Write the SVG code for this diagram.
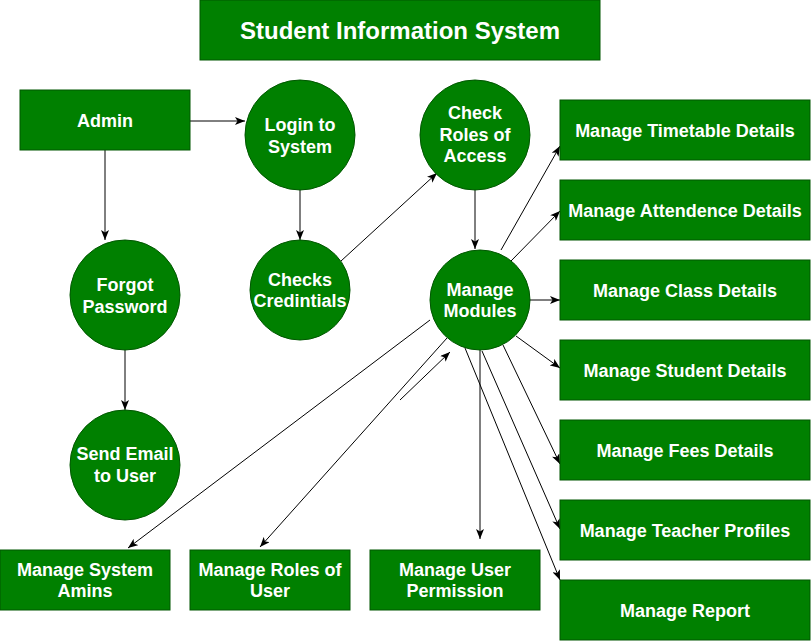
<svg xmlns="http://www.w3.org/2000/svg" width="811" height="641" viewBox="0 0 811 641">
  <style>
    .box { fill: #008000; stroke: #005700; stroke-width: 1; }
    .lbl { fill: #ffffff; font-family: "Liberation Sans", Arial, sans-serif; font-weight: bold; font-size: 18px; text-anchor: middle; }
    .title { font-size: 24px; }
    .edge { fill: none; stroke: #000000; stroke-width: 1; }
  </style>
  <defs>
    <marker id="arrow" viewBox="0 0 10 8" markerWidth="10" markerHeight="8" refX="10" refY="4" orient="auto" markerUnits="userSpaceOnUse">
      <path d="M0,0 L10,4 L0,8 L2.5,4 Z" fill="#000000"/>
    </marker>
  </defs>
  <rect width="811" height="641" fill="#ffffff"/>

  <g id="title">
    <rect class="box" x="200" y="0" width="400" height="60"/>
    <text class="lbl title" x="400" y="39">Student Information System</text>
  </g>

  <g id="connectors">
    <line class="edge" x1="190" y1="121" x2="245" y2="121" marker-end="url(#arrow)"/>
    <line class="edge" x1="105" y1="150" x2="105" y2="240" marker-end="url(#arrow)"/>
    <line class="edge" x1="300" y1="190" x2="300" y2="240" marker-end="url(#arrow)"/>
    <line class="edge" x1="125" y1="340" x2="125" y2="410" marker-end="url(#arrow)"/>
    <line class="edge" x1="341" y1="261" x2="437" y2="173" marker-end="url(#arrow)"/>
    <line class="edge" x1="475" y1="190" x2="475" y2="249" marker-end="url(#arrow)"/>
    <line class="edge" x1="501" y1="250" x2="560" y2="146" marker-end="url(#arrow)"/>
    <line class="edge" x1="511" y1="261" x2="560" y2="211" marker-end="url(#arrow)"/>
    <line class="edge" x1="530" y1="300" x2="560" y2="300" marker-end="url(#arrow)"/>
    <line class="edge" x1="516" y1="336" x2="560" y2="368" marker-end="url(#arrow)"/>
    <line class="edge" x1="503" y1="345" x2="560" y2="464" marker-end="url(#arrow)"/>
    <line class="edge" x1="482" y1="351" x2="560" y2="529" marker-end="url(#arrow)"/>
    <line class="edge" x1="465" y1="348" x2="560" y2="580" marker-end="url(#arrow)"/>
    <line class="edge" x1="480" y1="350" x2="480" y2="539" marker-end="url(#arrow)"/>
    <line class="edge" x1="430" y1="320" x2="128" y2="548" marker-end="url(#arrow)"/>
    <line class="edge" x1="447" y1="338" x2="260" y2="547" marker-end="url(#arrow)"/>
    <line class="edge" x1="400" y1="400" x2="450" y2="352" marker-end="url(#arrow)"/>
  </g>

  <g id="admin">
    <rect class="box" x="20" y="90" width="170" height="60"/>
    <text class="lbl" x="105" y="127">Admin</text>
  </g>
  <g id="login">
    <circle class="box" cx="300" cy="135" r="55"/>
    <text class="lbl" x="300" y="131">Login to</text>
    <text class="lbl" x="300" y="153">System</text>
  </g>
  <g id="check-roles">
    <circle class="box" cx="475" cy="135" r="55"/>
    <text class="lbl" x="475" y="119">Check</text>
    <text class="lbl" x="475" y="141">Roles of</text>
    <text class="lbl" x="475" y="162">Access</text>
  </g>
  <g id="forgot-password">
    <circle class="box" cx="125" cy="295" r="55"/>
    <text class="lbl" x="125" y="291">Forgot</text>
    <text class="lbl" x="125" y="313">Password</text>
  </g>
  <g id="checks-credentials">
    <circle class="box" cx="300" cy="290" r="50"/>
    <text class="lbl" x="300" y="286">Checks</text>
    <text class="lbl" x="300" y="307">Credintials</text>
  </g>
  <g id="send-email">
    <circle class="box" cx="125" cy="465" r="55"/>
    <text class="lbl" x="125" y="460">Send Email</text>
    <text class="lbl" x="125" y="482">to User</text>
  </g>
  <g id="manage-modules">
    <circle class="box" cx="480" cy="300" r="50"/>
    <text class="lbl" x="480" y="296">Manage</text>
    <text class="lbl" x="480" y="317">Modules</text>
  </g>

  <g id="timetable">
    <rect class="box" x="560" y="100" width="250" height="60"/>
    <text class="lbl" x="685" y="137">Manage Timetable Details</text>
  </g>
  <g id="attendance">
    <rect class="box" x="560" y="180" width="250" height="60"/>
    <text class="lbl" x="685" y="217">Manage Attendence Details</text>
  </g>
  <g id="class">
    <rect class="box" x="560" y="260" width="250" height="60"/>
    <text class="lbl" x="685" y="297">Manage Class Details</text>
  </g>
  <g id="student">
    <rect class="box" x="560" y="340" width="250" height="60"/>
    <text class="lbl" x="685" y="377">Manage Student Details</text>
  </g>
  <g id="fees">
    <rect class="box" x="560" y="420" width="250" height="60"/>
    <text class="lbl" x="685" y="457">Manage Fees Details</text>
  </g>
  <g id="teacher">
    <rect class="box" x="560" y="500" width="250" height="60"/>
    <text class="lbl" x="685" y="537">Manage Teacher Profiles</text>
  </g>
  <g id="report">
    <rect class="box" x="560" y="580" width="250" height="60"/>
    <text class="lbl" x="685" y="617">Manage Report</text>
  </g>

  <g id="system-admins">
    <rect class="box" x="0" y="550" width="170" height="60"/>
    <text class="lbl" x="85" y="576">Manage System</text>
    <text class="lbl" x="85" y="597">Amins</text>
  </g>
  <g id="roles-of-user">
    <rect class="box" x="190" y="550" width="160" height="60"/>
    <text class="lbl" x="270" y="576">Manage Roles of</text>
    <text class="lbl" x="270" y="597">User</text>
  </g>
  <g id="user-permission">
    <rect class="box" x="370" y="550" width="170" height="60"/>
    <text class="lbl" x="455" y="576">Manage User</text>
    <text class="lbl" x="455" y="597">Permission</text>
  </g>
</svg>
